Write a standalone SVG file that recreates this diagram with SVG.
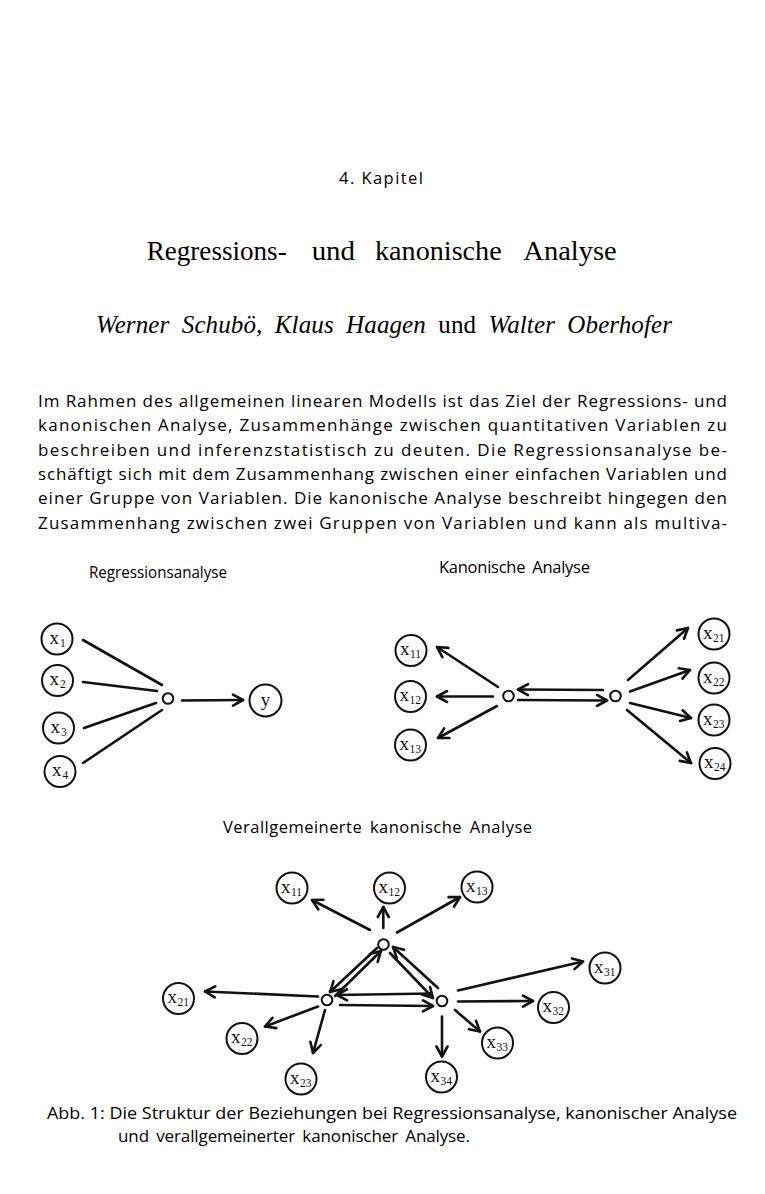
<svg xmlns="http://www.w3.org/2000/svg" width="765" height="1194" viewBox="0 0 765 1194">
<style>
.sans{font-family:"Open Sans","Noto Sans","DejaVu Sans",sans-serif;fill:#000}
.serif{font-family:"Liberation Serif","Times New Roman",serif;fill:#000}
.body{font-size:17px}
.lab{font-size:16.5px}
.nc{fill:#fff;stroke:#111;stroke-width:2}
.sn{fill:none;stroke:#111;stroke-width:2}
.ln{stroke:#111;stroke-width:2.6;fill:none;stroke-linecap:round}
.ar{stroke:#111;stroke-width:2.6;fill:none;stroke-linecap:round;marker-end:url(#ah)}
.vx{font-family:"Liberation Serif","Times New Roman",serif;font-size:19px;fill:#111}
.vs{font-size:11.5px}
.ti{font-size:27.5px}
.au{font-size:25px}
.it{font-style:italic}
</style>
<defs>
<marker id="ah" viewBox="0 0 14 14" refX="12" refY="7" markerWidth="14" markerHeight="14" markerUnits="userSpaceOnUse" orient="auto">
<path d="M2,1.5 L12,7 L2,12.5" fill="none" stroke="#111" stroke-width="2.6" stroke-linecap="round" stroke-linejoin="round"/>
</marker>
</defs>
<rect width="765" height="1194" fill="#fff"/>

<g id="header">
<text class="sans" x="339" y="184" font-size="16.5" textLength="84" lengthAdjust="spacing">4.  Kapitel</text>
<g class="serif ti">
<text x="146.7" y="260" textLength="140" lengthAdjust="spacingAndGlyphs">Regressions-</text>
<text x="311.7" y="260" textLength="43.3" lengthAdjust="spacingAndGlyphs">und</text>
<text x="375" y="260" textLength="126.7" lengthAdjust="spacingAndGlyphs">kanonische</text>
<text x="523.3" y="260" textLength="93.4" lengthAdjust="spacingAndGlyphs">Analyse</text>
</g>
<text class="serif au" x="96" y="333" word-spacing="6" textLength="576" lengthAdjust="spacing"><tspan class="it">Werner Schubö, Klaus Haagen</tspan> und <tspan class="it">Walter Oberhofer</tspan></text>
</g>

<g id="paragraph" class="sans body">
<text x="38" y="407" textLength="689" lengthAdjust="spacing">Im Rahmen des allgemeinen linearen Modells ist das Ziel der Regressions- und</text>
<text x="38" y="431" textLength="689" lengthAdjust="spacing">kanonischen Analyse, Zusammenhänge zwischen quantitativen Variablen zu</text>
<text x="38" y="455.5" textLength="689" lengthAdjust="spacing">beschreiben und inferenzstatistisch zu deuten. Die Regressionsanalyse be-</text>
<text x="38" y="480" textLength="689" lengthAdjust="spacing">schäftigt sich mit dem Zusammenhang zwischen einer einfachen Variablen und</text>
<text x="38" y="504" textLength="689" lengthAdjust="spacing">einer Gruppe von Variablen. Die kanonische Analyse beschreibt hingegen den</text>
<text x="38" y="528.5" textLength="689" lengthAdjust="spacing">Zusammenhang zwischen zwei Gruppen von Variablen und kann als multiva-</text>
</g>

<g id="labels" class="sans lab">
<text x="89" y="578" textLength="138" lengthAdjust="spacingAndGlyphs">Regressionsanalyse</text>
<text x="439" y="573" word-spacing="3" textLength="151" lengthAdjust="spacing">Kanonische Analyse</text>
<text x="223" y="833" word-spacing="3" textLength="309" lengthAdjust="spacing">Verallgemeinerte kanonische Analyse</text>
</g>

<g id="connectors">
<line class="ln" x1="83" y1="640" x2="162" y2="685"/>
<line class="ln" x1="83" y1="682" x2="157" y2="691"/>
<line class="ln" x1="84" y1="728" x2="156" y2="703"/>
<line class="ln" x1="83" y1="763" x2="162" y2="710"/>
<line class="ar" x1="182" y1="700.5" x2="243" y2="700"/>
<line class="ar" x1="498" y1="687" x2="437" y2="647"/>
<line class="ar" x1="493" y1="696.5" x2="437" y2="696.5"/>
<line class="ar" x1="497" y1="706" x2="438" y2="738"/>
<line class="ar" x1="603" y1="690" x2="518" y2="689.5"/>
<line class="ar" x1="518" y1="700" x2="607" y2="700.5"/>
<line class="ar" x1="628" y1="680" x2="688" y2="628"/>
<line class="ar" x1="630" y1="691.5" x2="690" y2="670"/>
<line class="ar" x1="630" y1="703" x2="691" y2="718"/>
<line class="ar" x1="627" y1="710" x2="691" y2="763"/>
<line class="ar" x1="370" y1="930" x2="312" y2="900"/>
<line class="ar" x1="383.3" y1="928" x2="383.3" y2="907"/>
<line class="ar" x1="397" y1="932.5" x2="460" y2="897"/>
<line class="ar" x1="377" y1="948" x2="330" y2="992"/>
<line class="ar" x1="335" y1="996" x2="381" y2="951"/>
<line class="ar" x1="390" y1="953" x2="433" y2="998"/>
<line class="ar" x1="438" y1="988" x2="393" y2="947"/>
<line class="ar" x1="431.5" y1="993.5" x2="337" y2="995"/>
<line class="ar" x1="340" y1="1005" x2="433" y2="1006"/>
<line class="ar" x1="318" y1="996.5" x2="205" y2="991.5"/>
<line class="ar" x1="318" y1="1006.5" x2="265" y2="1026.5"/>
<line class="ar" x1="325" y1="1010" x2="313" y2="1053"/>
<line class="ar" x1="442" y1="1016.5" x2="442" y2="1056.5"/>
<line class="ar" x1="458" y1="990.5" x2="583" y2="961.5"/>
<line class="ar" x1="458" y1="1001.5" x2="533" y2="1001"/>
<line class="ar" x1="455" y1="1010" x2="480" y2="1031.5"/>
</g>

<g id="reg-x1"><circle class="nc" cx="57" cy="639" r="15.5"/><text class="vx" x="49.5" y="644">x<tspan class="vs" dx="1" dy="3">1</tspan></text></g>
<g id="reg-x2"><circle class="nc" cx="57.5" cy="680.5" r="15.5"/><text class="vx" x="49.5" y="685">x<tspan class="vs" dx="1" dy="3">2</tspan></text></g>
<g id="reg-x3"><circle class="nc" cx="58.5" cy="728" r="15.5"/><text class="vx" x="50.5" y="733">x<tspan class="vs" dx="1" dy="3">3</tspan></text></g>
<g id="reg-x4"><circle class="nc" cx="60" cy="771.5" r="15.5"/><text class="vx" x="52" y="776">x<tspan class="vs" dx="1" dy="3">4</tspan></text></g>
<g id="reg-o"><circle class="sn" cx="168" cy="698.5" r="5.3"/></g>
<g id="reg-y"><circle class="nc" cx="265.5" cy="700.5" r="16"/><text class="vx" x="265.5" y="706" text-anchor="middle">y</text></g>

<g id="can-x11"><circle class="nc" cx="411" cy="650.5" r="15.5"/><text class="vx" x="400" y="655">x<tspan class="vs" dx="0.5" dy="3">11</tspan></text></g>
<g id="can-x12"><circle class="nc" cx="410.5" cy="696.5" r="15.5"/><text class="vx" x="399.5" y="701">x<tspan class="vs" dx="0.5" dy="3">12</tspan></text></g>
<g id="can-x13"><circle class="nc" cx="410.5" cy="745" r="15.5"/><text class="vx" x="399.5" y="749.5">x<tspan class="vs" dx="0.5" dy="3">13</tspan></text></g>
<g id="can-o1"><circle class="sn" cx="508.5" cy="696" r="5.3"/></g>
<g id="can-o2"><circle class="sn" cx="615.5" cy="696" r="5.3"/></g>
<g id="can-x21"><circle class="nc" cx="714" cy="634" r="15.5"/><text class="vx" x="703" y="638.5">x<tspan class="vs" dx="0.5" dy="3">21</tspan></text></g>
<g id="can-x22"><circle class="nc" cx="714" cy="678" r="15.5"/><text class="vx" x="703" y="682.5">x<tspan class="vs" dx="0.5" dy="3">22</tspan></text></g>
<g id="can-x23"><circle class="nc" cx="714" cy="720" r="15.5"/><text class="vx" x="703" y="724.5">x<tspan class="vs" dx="0.5" dy="3">23</tspan></text></g>
<g id="can-x24"><circle class="nc" cx="715" cy="763.5" r="15.5"/><text class="vx" x="704" y="768">x<tspan class="vs" dx="0.5" dy="3">24</tspan></text></g>

<g id="gen-x11"><circle class="nc" cx="292" cy="888" r="15.5"/><text class="vx" x="281" y="892.5">x<tspan class="vs" dx="0.5" dy="3">11</tspan></text></g>
<g id="gen-x12"><circle class="nc" cx="389.5" cy="888" r="15.5"/><text class="vx" x="378.5" y="892.5">x<tspan class="vs" dx="0.5" dy="3">12</tspan></text></g>
<g id="gen-x13"><circle class="nc" cx="477" cy="887" r="15.5"/><text class="vx" x="466" y="891.5">x<tspan class="vs" dx="0.5" dy="3">13</tspan></text></g>
<g id="gen-o1"><circle class="sn" cx="383.5" cy="944.5" r="5.3"/></g>
<g id="gen-o2"><circle class="sn" cx="327" cy="1000" r="5.3"/></g>
<g id="gen-o3"><circle class="sn" cx="442" cy="1001" r="5.3"/></g>
<g id="gen-x21"><circle class="nc" cx="178.5" cy="998.5" r="15.5"/><text class="vx" x="167.5" y="1003">x<tspan class="vs" dx="0.5" dy="3">21</tspan></text></g>
<g id="gen-x22"><circle class="nc" cx="242" cy="1038.5" r="15.5"/><text class="vx" x="231" y="1043">x<tspan class="vs" dx="0.5" dy="3">22</tspan></text></g>
<g id="gen-x23"><circle class="nc" cx="301" cy="1079" r="15.5"/><text class="vx" x="290" y="1083.5">x<tspan class="vs" dx="0.5" dy="3">23</tspan></text></g>
<g id="gen-x34"><circle class="nc" cx="441.5" cy="1077" r="15.5"/><text class="vx" x="430.5" y="1081.5">x<tspan class="vs" dx="0.5" dy="3">34</tspan></text></g>
<g id="gen-x31"><circle class="nc" cx="605" cy="968" r="15.5"/><text class="vx" x="594" y="972.5">x<tspan class="vs" dx="0.5" dy="3">31</tspan></text></g>
<g id="gen-x32"><circle class="nc" cx="553.5" cy="1007.5" r="15.5"/><text class="vx" x="542.5" y="1012">x<tspan class="vs" dx="0.5" dy="3">32</tspan></text></g>
<g id="gen-x33"><circle class="nc" cx="497.5" cy="1043" r="15.5"/><text class="vx" x="486.5" y="1047.5">x<tspan class="vs" dx="0.5" dy="3">33</tspan></text></g>

<g id="caption" class="sans" font-size="17">
<text x="47" y="1119" textLength="690" lengthAdjust="spacingAndGlyphs">Abb. 1: Die Struktur der Beziehungen bei Regressionsanalyse, kanonischer Analyse</text>
<text x="118" y="1142" word-spacing="3" textLength="352" lengthAdjust="spacing">und verallgemeinerter kanonischer Analyse.</text>
</g>
</svg>
